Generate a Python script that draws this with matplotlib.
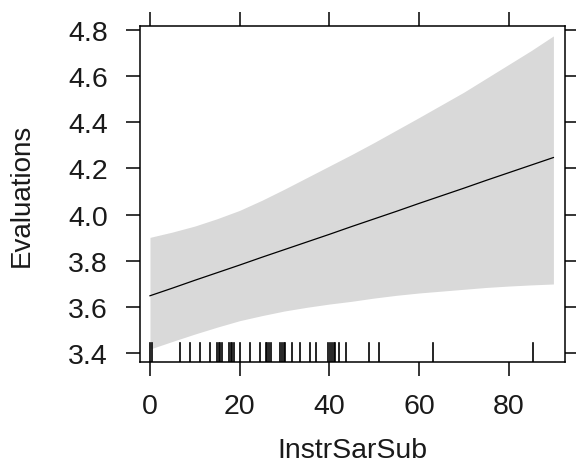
import matplotlib
matplotlib.use("Agg")
import matplotlib.pyplot as plt

# effect of InstrSarSub on Evaluations
xgrid = [0, 5, 10, 15, 20, 25, 30, 35, 40, 45, 50, 55, 60, 65, 70, 75, 80, 85, 90]
fit = [3.648, 3.681, 3.715, 3.748, 3.781, 3.815, 3.848, 3.881, 3.914, 3.948,
       3.981, 4.014, 4.048, 4.081, 4.114, 4.148, 4.181, 4.214, 4.247]
upper = [3.901, 3.924, 3.950, 3.982, 4.018, 4.062, 4.110, 4.160, 4.210, 4.260,
         4.312, 4.366, 4.420, 4.475, 4.530, 4.590, 4.650, 4.710, 4.774]
lower = [3.417, 3.450, 3.482, 3.512, 3.540, 3.562, 3.582, 3.598, 3.612, 3.624,
         3.638, 3.650, 3.660, 3.668, 3.676, 3.684, 3.690, 3.695, 3.699]
rug = [0, 0.5, 6.8, 8.9, 11.2, 13.4, 15.0, 15.3, 15.7, 16.0, 17.7, 18.0, 18.4, 18.8,
       20.1, 22.3, 24.6, 25.8, 26.2, 26.6, 27.0, 29.0, 29.4, 29.8, 30.1, 31.6, 33.5,
       35.7, 37.0, 39.8, 40.2, 40.6, 41.0, 41.3, 42.2, 43.8, 48.8, 51.2, 63.2, 85.4]
xticks = [0, 20, 40, 60, 80]
yticks = [3.4, 3.6, 3.8, 4.0, 4.2, 4.4, 4.6, 4.8]

plt.rcParams['font.family'] = ['Liberation Sans', 'DejaVu Sans']
txtcol = "#1a1a1a"

fig = plt.figure(figsize=(5.76, 4.64), dpi=100)
ax = fig.add_axes([0.243, 0.2177, 0.738, 0.7241])

ax.fill_between(xgrid, lower, upper, color="#d9d9d9", linewidth=0, zorder=1)
ax.plot(xgrid, fit, color="black", linewidth=0.9, zorder=2)

# rug along the bottom
for r in rug:
    ax.axvline(r, ymin=0, ymax=0.058, color="black", linewidth=1.2, zorder=3)

ax.set_xlim(-2.23, 92.6)
ax.set_ylim(3.361, 4.817)
ax.set_xticks(xticks)
ax.set_yticks(yticks)
ax.set_yticklabels(["%.1f" % v for v in yticks])

for s in ax.spines.values():
    s.set_linewidth(1.1)
    s.set_color("black")

ax.tick_params(axis="both", direction="out", length=10, width=1.1, color="black",
               labelsize=20.5, labelcolor=txtcol, top=True, right=True,
               labeltop=False, labelright=False)
ax.tick_params(axis="x", pad=12)
ax.tick_params(axis="y", pad=13)

ax.set_xlabel("InstrSarSub", fontsize=20.5, color=txtcol, labelpad=13)
ax.set_ylabel("Evaluations", fontsize=20, color=txtcol, labelpad=24)

plt.savefig("out.png", dpi=100)
